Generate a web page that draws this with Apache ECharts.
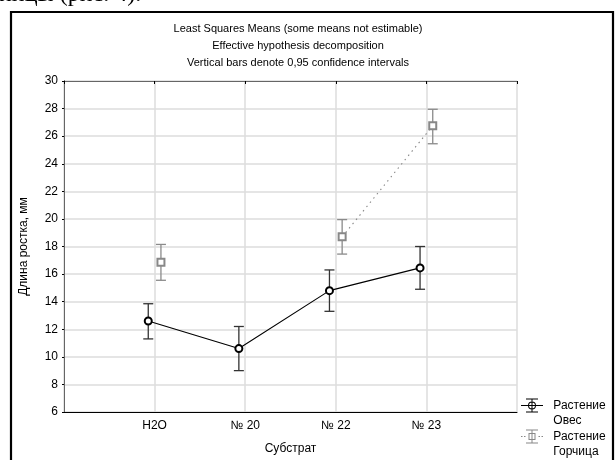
<!DOCTYPE html>
<html lang="ru">
<head>
    <meta charset="UTF-8">
    <title>Least Squares Means</title>
    <style type="text/css">
        html, body { margin: 0; padding: 0; background: #fff; }
        #main { width: 615px; height: 460px; }
    </style>
</head>
<body>
    <div id="main"></div>
    <script src="https://cdn.jsdelivr.net/npm/echarts@6/dist/echarts.min.js"></script>
    <script type="text/javascript">
        // данные
        var categories = ['H2O', '№ 20', '№ 22', '№ 23'];
        var oatMean = [12.6, 10.6, 14.8, 16.45];
        var oatLow = [11.3, 9.0, 13.3, 14.9];
        var oatHigh = [13.85, 12.2, 16.3, 18.0];
        var mustardMean = [16.85, null, 18.7, 26.75];   // № 20 - not estimable
        var mustardLow = [15.55, null, 17.45, 25.45];
        var mustardHigh = [18.15, null, 19.95, 27.95];
        var yTicks = [6, 30, 2]; // min, max, step

        var shift = 0.07;  // смещение точек от линии категории

        function points(mean, dx) {
            return mean.map(function (v, i) {
                return [i + 1 + dx, v === null ? '-' : v];
            });
        }
        function bars(low, high, dx) {
            var out = [];
            for (var i = 0; i < low.length; i++) {
                if (low[i] !== null) out.push([i + 1 + dx, low[i], high[i]]);
            }
            return out;
        }
        function errorBar(color) {
            return function (params, api) {
                var lo = api.coord([api.value(0), api.value(1)]);
                var hi = api.coord([api.value(0), api.value(2)]);
                var w = 5;
                var st = { stroke: color, lineWidth: 1.3 };
                return {
                    type: 'group',
                    children: [
                        { type: 'line', shape: { x1: hi[0], y1: hi[1], x2: lo[0], y2: lo[1] }, style: st },
                        { type: 'line', shape: { x1: hi[0] - w, y1: hi[1], x2: hi[0] + w, y2: hi[1] }, style: st },
                        { type: 'line', shape: { x1: lo[0] - w, y1: lo[1], x2: lo[0] + w, y2: lo[1] }, style: st }
                    ]
                };
            };
        }

        // значки легенды (22 x 14)
        var oatIcon = 'path://M5,0H17V1H5Z M5,13H17V14H5Z M10.5,0H11.5V14H10.5Z M0,6.5H22V7.5H0Z ' +
            'M11,3A4,4 0 1 1 10.99,3Z M11,4A3,3 0 1 0 11.01,4Z';
        var mustardIcon = 'path://M5,0H17V1H5Z M5,13H17V14H5Z M10.5,0H11.5V14H10.5Z ' +
            'M0,6.5H1.5V7.5H0Z M3,6.5H4.5V7.5H3Z M17.5,6.5H19V7.5H17.5Z M20.5,6.5H22V7.5H20.5Z ' +
            'M7.5,3.5H14.5V10.5H7.5Z M8.5,4.5V9.5H13.5V4.5Z';

        var myChart = echarts.init(document.getElementById('main'));
        var txt = { fontFamily: 'Liberation Sans', fontSize: 12, color: '#000' };
        var legendText = { fontFamily: 'Liberation Sans', fontSize: 12, color: '#000', lineHeight: 15 };

        function legendBox(top, item) {
            return {
                left: 516, top: top,
                itemWidth: 26, itemHeight: 14,
                selectedMode: false,
                textStyle: legendText,
                // пустая первая строка: значок встаёт напротив первой строки подписи
                formatter: function (name) {
                    return '\n' + name.split('\n').map(function (s) { return ' ' + s; }).join('\n');
                },
                data: [item]
            };
        }

        var option = {
            animation: false,
            backgroundColor: '#fff',
            textStyle: { fontFamily: 'Liberation Sans' },
            title: {
                text: 'Least Squares Means (some means not estimable)\nEffective hypothesis decomposition\nVertical bars denote 0,95 confidence intervals',
                left: 293, top: 15, textAlign: 'center',
                textStyle: { fontFamily: 'Liberation Sans', fontSize: 11, fontWeight: 'normal', color: '#000', lineHeight: 17 }
            },
            graphic: [
                { type: 'rect', shape: { x: 11, y: 12, width: 602, height: 460 }, style: { fill: null, stroke: '#000', lineWidth: 2.2 } },
                { type: 'text', x: -1, y: 7, style: { text: 'ницы (рис. 4).', font: '24px "Liberation Serif"', fill: '#000', textVerticalAlign: 'bottom' } }
            ],
            legend: [
                legendBox(378, { name: 'Растение\nОвес', icon: oatIcon, itemStyle: { color: '#000', borderWidth: 0 } }),
                legendBox(409, { name: 'Растение\nГорчица', icon: mustardIcon, itemStyle: { color: '#888', borderWidth: 0 } })
            ],
            grid: { left: 64, right: 98, top: 81, bottom: 47 },
            xAxis: [{
                type: 'value', min: 0, max: 5, interval: 1,
                name: 'Субстрат', nameLocation: 'middle', nameGap: 31,
                nameTextStyle: txt,
                axisLine: { lineStyle: { color: '#000', width: 1 } },
                axisTick: { show: false },
                axisLabel: Object.assign({
                    margin: 8,
                    formatter: function (v) { return categories[v - 1] || ''; }
                }, txt),
                splitLine: { lineStyle: { color: '#dcdcdc', width: 1.5 } }
            }, {
                type: 'value', min: 0, max: 5, interval: 1, position: 'top',
                axisLine: { show: true, lineStyle: { color: '#666' } },
                axisTick: { show: true, inside: true, length: 3, lineStyle: { color: '#000' } },
                axisLabel: { show: false },
                splitLine: { show: false }
            }],
            yAxis: [{
                type: 'value', min: yTicks[0], max: yTicks[1], interval: yTicks[2],
                name: 'Длина ростка, мм', nameLocation: 'middle', nameGap: 34,
                nameTextStyle: txt,
                axisLine: { show: true, lineStyle: { color: '#000' } },
                axisTick: { show: true, length: 2, lineStyle: { color: '#000' } },
                axisLabel: Object.assign({ margin: 6 }, txt),
                splitLine: { lineStyle: { color: '#dcdcdc', width: 1.5 } }
            }, {
                type: 'value', min: yTicks[0], max: yTicks[1], interval: yTicks[2], position: 'right',
                axisLine: { show: true, lineStyle: { color: '#666' } },
                axisTick: { show: false },
                axisLabel: { show: false },
                splitLine: { show: false }
            }],
            series: [
                {
                    name: 'oatBars', type: 'custom', renderItem: errorBar('#333'),
                    encode: { x: 0, y: [1, 2] }, data: bars(oatLow, oatHigh, -shift), z: 3
                },
                {
                    name: 'mustardBars', type: 'custom', renderItem: errorBar('#8a8a8a'),
                    encode: { x: 0, y: [1, 2] }, data: bars(mustardLow, mustardHigh, shift), z: 3
                },
                {
                    name: 'Растение\nОвес', type: 'line', data: points(oatMean, -shift),
                    symbol: 'emptyCircle', symbolSize: 7, showAllSymbol: true,
                    itemStyle: { color: '#000', borderColor: '#000', borderWidth: 0.7 },
                    lineStyle: { color: '#000', width: 1.1 }, z: 4
                },
                {
                    name: 'Растение\nГорчица', type: 'line', data: points(mustardMean, shift),
                    connectNulls: false,
                    symbol: 'emptyRect', symbolSize: 7, showAllSymbol: true,
                    itemStyle: { color: '#888', borderColor: '#888', borderWidth: 0.7 },
                    lineStyle: { color: '#888', width: 1.1, type: [1.5, 4] }, z: 4
                }
            ]
        };
        myChart.setOption(option);
    </script>
</body>
</html>
